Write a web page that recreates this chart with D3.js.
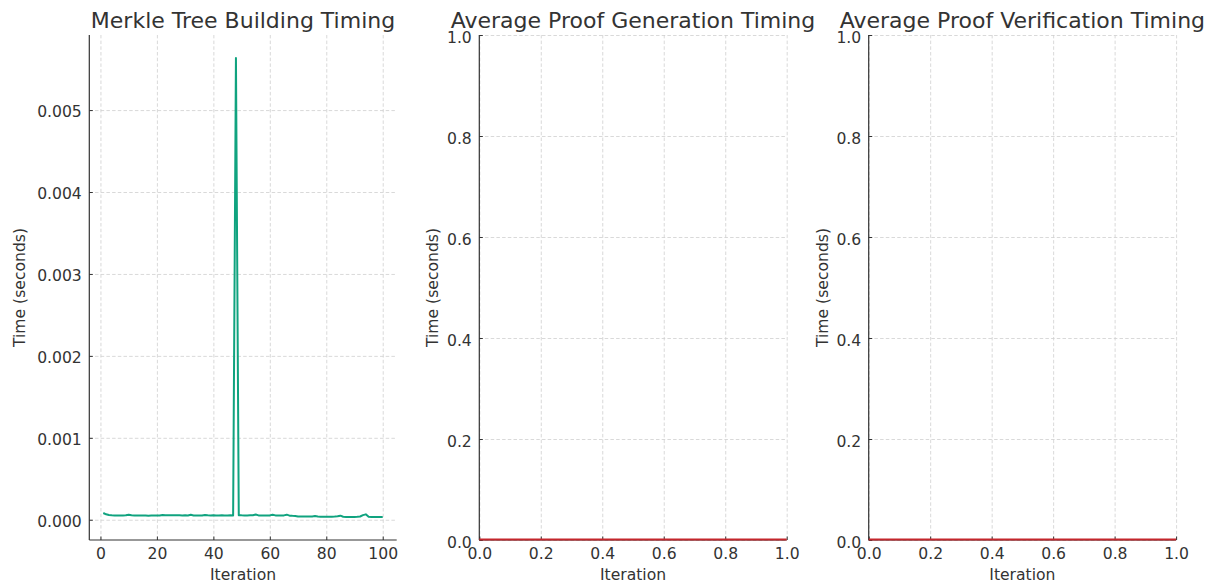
<!DOCTYPE html>
<html lang="en">
<head>
<meta charset="UTF-8">
<title>Merkle Tree Timing</title>
<script src="https://cdn.jsdelivr.net/npm/d3@7"></script>
<style>
    body { margin: 0; background: #fff; }
    svg { display: block; font-family: "DejaVu Sans", sans-serif; }
    .grid line { stroke: #cfcfcf; stroke-width: 0.8; stroke-dasharray: 3.5,2.2; }
    .grid path { display: none; }
    .axis path, .axis line { stroke: #333; }
    .axis text { fill: #333; font-size: 15.6px; font-family: "DejaVu Sans", sans-serif; }
    .title { fill: #333; font-size: 22px; text-anchor: middle; }
    .label { fill: #333; font-size: 15.6px; text-anchor: middle; }
</style>
</head>
<body>
<svg width="1214" height="584"></svg>
<script>
// merkle tree build time per iteration (seconds)
var iterations = [1, 2, 3, 4, 5, 6, 7, 8, 9, 10, 11, 12, 13, 14, 15, 16, 17, 18, 19, 20,
    21, 22, 23, 24, 25, 26, 27, 28, 29, 30, 31, 32, 33, 34, 35, 36, 37, 38, 39, 40,
    41, 42, 43, 44, 45, 46, 47, 48, 49, 50, 51, 52, 53, 54, 55, 56, 57, 58, 59, 60,
    61, 62, 63, 64, 65, 66, 67, 68, 69, 70, 71, 72, 73, 74, 75, 76, 77, 78, 79, 80,
    81, 82, 83, 84, 85, 86, 87, 88, 89, 90, 91, 92, 93, 94, 95, 96, 97, 98, 99, 100];
var buildTimes = [
    0.000082, 0.000066, 0.000058, 0.000055, 0.000053, 0.000052, 0.000052, 0.000053, 0.000054, 0.000062,
    0.000054, 0.000052, 0.000051, 0.000051, 0.000052, 0.000051, 0.000050, 0.000051, 0.000052, 0.000052,
    0.000053, 0.000059, 0.000055, 0.000054, 0.000055, 0.000054, 0.000055, 0.000054, 0.000053, 0.000054,
    0.000053, 0.000061, 0.000053, 0.000052, 0.000052, 0.000053, 0.000059, 0.000054, 0.000053, 0.000054,
    0.000053, 0.000053, 0.000054, 0.000053, 0.000053, 0.000054, 0.000053, 0.005636, 0.000056, 0.000054,
    0.000053, 0.000053, 0.000054, 0.000055, 0.000064, 0.000053, 0.000052, 0.000053, 0.000052, 0.000053,
    0.000062, 0.000053, 0.000052, 0.000052, 0.000053, 0.000062, 0.000050, 0.000048, 0.000047, 0.000041,
    0.000040, 0.000040, 0.000039, 0.000040, 0.000041, 0.000045, 0.000039, 0.000038, 0.000038, 0.000038,
    0.000038, 0.000038, 0.000039, 0.000043, 0.000050, 0.000037, 0.000035, 0.000035, 0.000035, 0.000035,
    0.000036, 0.000040, 0.000056, 0.000066, 0.000036, 0.000034, 0.000034, 0.000034, 0.000033, 0.000034];

// proof generation / verification: no timings recorded, flat line at zero
var proofIter = [0, 1];
var proofGenTimes = [0, 0];
var proofVerTimes = [0, 0];

var titles = ["Merkle Tree Building Timing", "Average Proof Generation Timing", "Average Proof Verification Timing"];
var buildXTicks = [0, 20, 40, 60, 80, 100];
var buildYTicks = [0, 0.001, 0.002, 0.003, 0.004, 0.005];
var unitTicks = [0, 0.2, 0.4, 0.6, 0.8, 1.0];

var svg = d3.select("svg");
var plotTop = 35, plotBottom = 540, w = 307.4;

var panels = [
    {left: 89.3, xs: iterations, ys: buildTimes, xTicks: buildXTicks, yTicks: buildYTicks,
     xFmt: d3.format("d"), yFmt: d3.format(".3f"), color: "#10a37f", ylab: 69, ydy: "0.42em", auto: true},
    {left: 479.3, xs: proofIter, ys: proofGenTimes, xTicks: unitTicks, yTicks: unitTicks,
     xFmt: d3.format(".1f"), yFmt: d3.format(".1f"), color: "#c4262c", ylab: 46, ydy: "0.47em"},
    {left: 868.7, xs: proofIter, ys: proofVerTimes, xTicks: unitTicks, yTicks: unitTicks,
     xFmt: d3.format(".1f"), yFmt: d3.format(".1f"), color: "#c4262c", ylab: 46, ydy: "0.47em"}
];

panels.forEach(function(p, i) {
    var x = d3.scaleLinear().range([p.left, p.left + w]);
    var y = d3.scaleLinear().range([plotBottom, plotTop]);
    if (p.auto) {
        // matplotlib style 5% margins
        var xe = d3.extent(p.xs), ye = d3.extent(p.ys);
        var xm = (xe[1] - xe[0]) * 0.05, ym = (ye[1] - ye[0]) * 0.05;
        x.domain([xe[0] - xm, xe[1] + xm]);
        y.domain([ye[0] - ym, ye[1] + ym]);
    } else {
        x.domain([0, 1]);
        y.domain([0, 1]);
    }

    // grid
    svg.append("g").attr("class", "grid")
        .attr("transform", "translate(0," + plotBottom + ")")
        .call(d3.axisBottom(x).tickValues(p.xTicks).tickSize(-(plotBottom - plotTop)).tickFormat(""));
    svg.append("g").attr("class", "grid")
        .attr("transform", "translate(" + p.left + ",0)")
        .call(d3.axisLeft(y).tickValues(p.yTicks).tickSize(-w).tickFormat(""));

    // data line
    var pts = p.xs.map(function(d, k) { return [d, p.ys[k]]; });
    if (p.auto) {
        svg.append("path")
            .datum(pts)
            .attr("fill", "none")
            .attr("stroke", p.color)
            .attr("stroke-width", 2)
            .attr("stroke-linejoin", "round")
            .attr("d", d3.line().x(function(d) { return x(d[0]); }).y(function(d) { return y(d[1]); }));
    }

    // axes (left + bottom spines only, ticks pointing in)
    var xa = svg.append("g").attr("class", "axis")
        .attr("transform", "translate(0," + plotBottom + ")")
        .call(d3.axisBottom(x).tickValues(p.xTicks).tickFormat(p.xFmt).tickSizeInner(-3.5).tickSizeOuter(0).tickPadding(7.5));
    var ya = svg.append("g").attr("class", "axis")
        .attr("transform", "translate(" + p.left + ",0)")
        .call(d3.axisLeft(y).tickValues(p.yTicks).tickFormat(p.yFmt).tickSizeInner(-3.5).tickSizeOuter(0).tickPadding(7.5));
    xa.select(".domain").attr("d", "M" + p.left + ",0H" + (p.left + w)).attr("stroke-width", 1.2);
    ya.select(".domain").attr("d", "M0," + plotTop + "V" + plotBottom).attr("stroke-width", 1.2);
    xa.selectAll(".tick text").attr("dy", "0.71em");
    ya.selectAll(".tick text").attr("dy", p.ydy);

    // red line on top of the bottom spine for empty panels
    if (!p.auto) {
        svg.append("path").datum(pts)
            .attr("fill", "none").attr("stroke", p.color).attr("stroke-width", 2)
            .attr("d", d3.line().x(function(d) { return x(d[0]); }).y(function(d) { return y(d[1]) - 0.5; }));
    }

    svg.append("text").attr("class", "title")
        .attr("x", p.left + w / 2).attr("y", 27.5)
        .text(titles[i]);
    svg.append("text").attr("class", "label")
        .attr("x", p.left + w / 2).attr("y", 580)
        .text("Iteration");
    svg.append("text").attr("class", "label")
        .attr("transform", "translate(" + (p.left - p.ylab + 5) + "," + ((plotTop + plotBottom) / 2) + ") rotate(-90)")
        .text("Time (seconds)");
});
</script>
</body>
</html>
